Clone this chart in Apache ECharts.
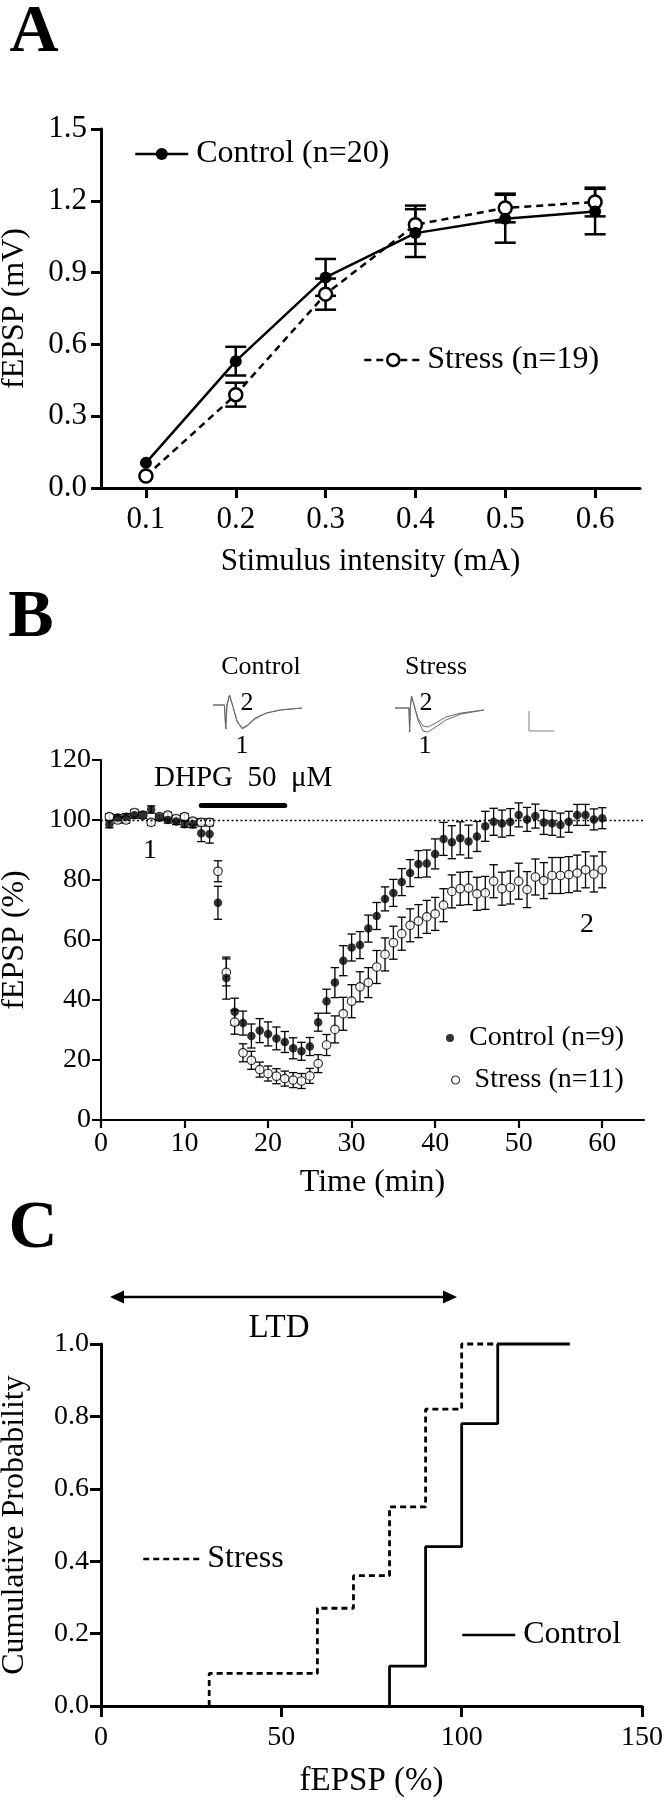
<!DOCTYPE html>
<html><head><meta charset="utf-8">
<script src="https://cdn.jsdelivr.net/npm/echarts@6/dist/echarts.min.js"></script>
<style>html,body{margin:0;padding:0;background:#fff}#c{width:666px;height:1800px}</style>
</head><body><div id="c"></div>
<script>
const FONT = 'Liberation Serif';

// ---------- Panel A : input-output ----------
const intensityA = ['0.1', '0.2', '0.3', '0.4', '0.5', '0.6'];
const controlA = [0.105, 0.53, 0.88, 1.065, 1.125, 1.155];
const controlAErr = [0, 0.06, 0.077, 0.10, 0.10, 0.095];
const stressA = [0.05, 0.39, 0.81, 1.10, 1.17, 1.195];
const stressAErr = [0, 0.05, 0.065, 0.08, 0.06, 0.06];

// ---------- Panel B : DHPG time course ----------
const timeB = [1,2,3,4,5,6,7,8,9,10,11,12,13,14,15,16,17,18,19,20,21,22,23,24,25,26,27,28,29,30,
               31,32,33,34,35,36,37,38,39,40,41,42,43,44,45,46,47,48,49,50,51,52,53,54,55,56,57,58,59,60];
const controlB = [98.6,100.8,101.1,101.6,101.6,103.5,100.8,100.0,99.5,98.6,98.6,95.6,95.3,72.4,47.3,
                  36.1,32.3,28.0,29.8,28.7,27.2,26.0,23.9,22.9,24.5,32.6,39.6,45.8,53.1,57.5,
                  58.3,63.8,68.0,73.7,75.7,79.3,82.3,85.3,85.5,88.7,93.7,92.6,93.9,92.8,94.5,
                  97.9,99.4,98.8,99.3,101.7,100.2,101.3,99.2,98.9,98.3,99.4,101.7,101.7,100.2,100.6];
const controlBErr = [1.2,1,1,1,1,1.2,1,1,1,1,1.2,2.8,3,5.5,7,
                     4.5,4,4,4,4,3.8,3.5,3.5,3,3,3,4,5,5,4.5,
                     4.5,4.5,4.5,4,4.5,4.5,4.5,4.5,4.5,5,5.5,5.5,5.5,5.5,5,
                     5,4.5,4.5,4.5,4,4,4,4,4,4,3.5,3.5,3.5,3.5,3.5];
const stressB = [101.1,100.0,100.0,102.5,101.6,99.2,101.1,101.6,100.5,101.1,99.6,99.2,99.2,82.9,49.2,
                 32.6,22.4,19.9,16.8,15.5,14.6,13.8,13.3,13.0,14.7,18.8,25.0,30.2,35.4,39.6,
                 44.4,45.8,51.0,55.2,59.1,62.1,64.9,66.3,67.7,68.7,71.6,76.2,77.1,77.3,75.4,
                 75.7,79.6,77.1,77.5,79.6,76.8,81.0,79.8,81.5,81.5,81.8,82.3,83.4,82.0,83.4];
const stressBErr = [1,1,1,1,1,1,1,1,1,1,1,1.2,1.2,3.5,4.5,
                    4,3,3,2.5,2.5,2.5,2.5,2.5,2.5,2.5,3,3.5,4.5,5.5,5.5,
                    5,5,5.5,5.5,5.5,5.5,5.5,5.5,5.5,5.5,5.5,5.5,5.5,5.5,5.5,
                    5.5,5.5,5.5,5.5,6,6,6,6,6,6,6,6,6,6,6];
const tickB = [0, 10, 20, 30, 40, 50, 60];
const baselineB = 100;
const dhpgB = [12, 22];
const dhpgLevel = 105;

// example traces (ms, arbitrary mV units)
const traceT = [0, 9, 10, 11, 13, 16, 19, 23, 27, 33, 42, 53, 70];
const controlTrace1 = [0, 0, -24, 0, 10, -3, -17, -24, -21, -14, -8, -5, -3];
const controlTrace2 = [0, 0, -24, 0, 10, -3, -16, -23, -20, -13, -8, -5, -3];
const stressTraceT = [0, 11, 11.5, 12, 13, 15, 18, 22, 26, 32, 40, 52, 70];
const stressTrace1 = [0, 0, -24, 0, 12, 3, -12, -23, -24, -19, -12, -6, -2];
const stressTrace2 = [0, 0, -24, 0, 12, 3, -10, -18, -19, -15, -9, -5, -2];

// ---------- Panel C : cumulative probability ----------
const stressCX = [30, 60, 70, 80, 90, 100];
const stressCP = [0.09, 0.27, 0.36, 0.55, 0.82, 1.0];
const stressCEnd = 110;
const controlCX = [80, 90, 100, 110];
const controlCP = [0.11, 0.44, 0.78, 1.0];
const controlCEnd = 130;

function stepData(xs, ps, end) {
  const d = [[xs[0], 0]];
  xs.forEach((x, i) => d.push([x, ps[i]]));
  d.push([end, ps[ps.length - 1]]);
  return d;
}

function errBars(cap, lw) {
  return function (params, api) {
    const x = api.value(0), y = api.value(1), e = api.value(2);
    if (!(e > 0)) return null;
    const hi = api.coord([x, y + e]), lo = api.coord([x, y - e]);
    const st = () => ({ stroke: '#000', lineWidth: lw });
    return { type: 'group', children: [
      { type: 'line', shape: { x1: hi[0], y1: hi[1], x2: lo[0], y2: lo[1] }, style: st() },
      { type: 'line', shape: { x1: hi[0] - cap, y1: hi[1], x2: hi[0] + cap, y2: hi[1] }, style: st() },
      { type: 'line', shape: { x1: lo[0] - cap, y1: lo[1], x2: lo[0] + cap, y2: lo[1] }, style: st() }
    ]};
  };
}

function txt(text, x, y, size, opts) {
  return { type: 'text', x: x, y: y, silent: true, z: 50,
    style: Object.assign({ text: text, fontFamily: FONT, fontSize: size, fill: '#000',
      align: 'center', verticalAlign: 'middle' }, opts || {}) };
}

function axisCommon(lw, tickLen, fs, margin) {
  return {
    axisLine: { show: true, onZero: false, lineStyle: { color: '#000', width: lw } },
    axisTick: { show: true, inside: false, length: tickLen, lineStyle: { color: '#000', width: lw } },
    axisLabel: { show: true, color: '#000', fontFamily: FONT, fontSize: fs, margin: margin },
    splitLine: { show: false },
    nameTextStyle: { color: '#000', fontFamily: FONT }
  };
}

const chart = echarts.init(document.getElementById('c'), null, { renderer: 'canvas', width: 666, height: 1800 });

const ax = (base, extra) => echarts.util.merge(base, extra, true);

const option = {
  animation: false,
  backgroundColor: '#fff',
  textStyle: { fontFamily: FONT, color: '#000' },
  grid: [
    { left: 101, top: 129, width: 539, height: 359, containLabel: false, outerBoundsMode: 'none' },
    { left: 101, top: 760, width: 543, height: 360, containLabel: false, outerBoundsMode: 'none' },
    { left: 101, top: 1344, width: 541, height: 362, containLabel: false, outerBoundsMode: 'none' },
    { left: 213, top: 691, width: 89, height: 40, containLabel: false, outerBoundsMode: 'none' },
    { left: 395, top: 694, width: 89, height: 40, containLabel: false, outerBoundsMode: 'none' }
  ],
  xAxis: [
    ax(axisCommon(3, 10, 31, 16), {
      gridIndex: 0, type: 'category', data: intensityA, boundaryGap: true,
      axisTick: { alignWithLabel: true, interval: 0 }, axisLabel: { interval: 0 },
      name: 'Stimulus intensity (mA)', nameLocation: 'middle', nameGap: 58,
      nameTextStyle: { fontSize: 31 }
    }),
    ax(axisCommon(2.2, 8, 28, 10), {
      gridIndex: 1, type: 'value', min: 0, max: 65, interval: 10,
      axisTick: { customValues: tickB },
      axisLabel: { customValues: tickB, formatter: v => (v > 60 ? '' : String(v)) },
      name: 'Time (min)', nameLocation: 'middle', nameGap: 47, nameTextStyle: { fontSize: 32 }
    }),
    ax(axisCommon(3, 11, 28, 18), {
      gridIndex: 2, type: 'value', min: 0, max: 150, interval: 50,
      name: 'fEPSP (%)', nameLocation: 'middle', nameGap: 59, nameTextStyle: { fontSize: 33 }
    }),
    { gridIndex: 3, type: 'value', min: 0, max: 70, show: false },
    { gridIndex: 4, type: 'value', min: 0, max: 70, show: false }
  ],
  yAxis: [
    ax(axisCommon(3, 10, 31, 14), {
      gridIndex: 0, type: 'value', min: 0, max: 1.5, interval: 0.3,
      axisLabel: { formatter: v => v.toFixed(1) },
      name: 'fEPSP (mV)', nameLocation: 'middle', nameGap: 70, nameTextStyle: { fontSize: 32 }
    }),
    ax(axisCommon(2, 9, 28, 10), {
      gridIndex: 1, type: 'value', min: 0, max: 120, interval: 20,
      name: 'fEPSP (%)', nameLocation: 'middle', nameGap: 70, nameTextStyle: { fontSize: 32 }
    }),
    ax(axisCommon(3, 11, 28, 12), {
      gridIndex: 2, type: 'value', min: 0, max: 1.0, interval: 0.2,
      axisLabel: { formatter: v => v.toFixed(1) },
      name: 'Cumulative Probability', nameLocation: 'middle', nameGap: 70, nameTextStyle: { fontSize: 32 }
    }),
    { gridIndex: 3, type: 'value', min: -26, max: 14, show: false },
    { gridIndex: 4, type: 'value', min: -26, max: 14, show: false }
  ],
  legend: [
    { left: 134, top: 138, padding: 0, itemGap: 0, selectedMode: false, itemWidth: 53, itemHeight: 15,
      data: ['Control (n=20)'], lineStyle: { width: 2.5 },
      textStyle: { fontFamily: FONT, fontSize: 32, color: '#000', padding: [0, 0, 0, 3] } },
    { left: 363, top: 344, padding: 0, itemGap: 0, selectedMode: false, itemWidth: 58, itemHeight: 15,
      data: ['Stress (n=19)'], lineStyle: { width: 2.5 }, itemStyle: { borderWidth: 2.5 },
      textStyle: { fontFamily: FONT, fontSize: 32, color: '#000', padding: [0, 0, 0, 0] } },
    { left: 446, top: 1024, padding: 0, itemGap: 0, selectedMode: false, itemWidth: 8, itemHeight: 8,
      data: ['Control (n=9)'],
      textStyle: { fontFamily: FONT, fontSize: 28, color: '#000', padding: [0, 0, 0, 10] } },
    { left: 451, top: 1066, padding: 0, itemGap: 0, selectedMode: false, itemWidth: 8, itemHeight: 8,
      data: ['Stress (n=11)'], itemStyle: { borderWidth: 1.2 },
      textStyle: { fontFamily: FONT, fontSize: 28, color: '#000', padding: [0, 0, 0, 10] } },
    { left: 142, top: 1543, padding: 0, itemGap: 0, selectedMode: false, itemWidth: 56, itemHeight: 14,
      data: ['Stress'], lineStyle: { width: 2.5 }, itemStyle: { opacity: 0 },
      textStyle: { fontFamily: FONT, fontSize: 32, color: '#000', padding: [0, 0, 0, 3] } },
    { left: 461, top: 1619, padding: 0, itemGap: 0, selectedMode: false, itemWidth: 53, itemHeight: 14,
      data: ['Control'], lineStyle: { width: 2.5 }, itemStyle: { opacity: 0 },
      textStyle: { fontFamily: FONT, fontSize: 32, color: '#000', padding: [0, 0, 0, 3] } }
  ],
  series: [
    // ---- A ----
    { name: 'errA-control', type: 'custom', xAxisIndex: 0, yAxisIndex: 0, z: 2,
      renderItem: errBars(10.5, 2.5), encode: { x: 0, y: 1 },
      data: controlA.map((v, i) => [i, v, controlAErr[i]]) },
    { name: 'errA-stress', type: 'custom', xAxisIndex: 0, yAxisIndex: 0, z: 2,
      renderItem: errBars(10.5, 2.5), encode: { x: 0, y: 1 },
      data: stressA.map((v, i) => [i, v, stressAErr[i]]) },
    { name: 'Stress (n=19)', type: 'line', xAxisIndex: 0, yAxisIndex: 0, z: 3, data: stressA,
      symbol: 'circle', symbolSize: 13, showSymbol: true,
      lineStyle: { color: '#000', width: 2.5, type: [7, 5] },
      itemStyle: { color: '#fff', borderColor: '#000', borderWidth: 2.5 } },
    { name: 'Control (n=20)', type: 'line', xAxisIndex: 0, yAxisIndex: 0, z: 4, data: controlA,
      symbol: 'circle', symbolSize: 12, showSymbol: true,
      lineStyle: { color: '#000', width: 2.5, type: 'solid' },
      itemStyle: { color: '#000' } },

    // ---- B ----
    { name: 'errB-stress', type: 'custom', xAxisIndex: 1, yAxisIndex: 1, z: 2,
      renderItem: errBars(4.2, 1.3), encode: { x: 0, y: 1 },
      data: stressB.map((v, i) => [timeB[i], v, stressBErr[i]]) },
    { name: 'errB-control', type: 'custom', xAxisIndex: 1, yAxisIndex: 1, z: 2,
      renderItem: errBars(4.2, 1.3), encode: { x: 0, y: 1 },
      data: controlB.map((v, i) => [timeB[i], v, controlBErr[i]]) },
    { name: 'Stress (n=11)', type: 'scatter', xAxisIndex: 1, yAxisIndex: 1, z: 3,
      symbol: 'circle', symbolSize: 8.5,
      itemStyle: { color: '#fff', borderColor: '#000', borderWidth: 1.2 },
      data: stressB.map((v, i) => [timeB[i], v]),
      markLine: { silent: true, symbol: ['none', 'none'], label: { show: false },
        data: [
          { yAxis: baselineB, lineStyle: { color: '#000', width: 1.3, type: [2, 2.5] } },
          [ { coord: [dhpgB[0], dhpgLevel], lineStyle: { color: '#000', width: 5, type: 'solid', cap: 'round' } },
            { coord: [dhpgB[1], dhpgLevel] } ]
        ] } },
    { name: 'Control (n=9)', type: 'scatter', xAxisIndex: 1, yAxisIndex: 1, z: 4,
      symbol: 'circle', symbolSize: 8.5, itemStyle: { color: '#000' },
      data: controlB.map((v, i) => [timeB[i], v]) },

    // traces
    { name: 'trace-c1', type: 'line', xAxisIndex: 3, yAxisIndex: 3, symbol: 'none', clip: false,
      lineStyle: { color: '#6a6a6a', width: 1 }, data: traceT.map((t, i) => [t, controlTrace1[i]]) },
    { name: 'trace-c2', type: 'line', xAxisIndex: 3, yAxisIndex: 3, symbol: 'none', clip: false,
      lineStyle: { color: '#6a6a6a', width: 1 }, data: traceT.map((t, i) => [t, controlTrace2[i]]) },
    { name: 'trace-s1', type: 'line', xAxisIndex: 4, yAxisIndex: 4, symbol: 'none', clip: false,
      lineStyle: { color: '#6a6a6a', width: 1 }, data: stressTraceT.map((t, i) => [t, stressTrace1[i]]) },
    { name: 'trace-s2', type: 'line', xAxisIndex: 4, yAxisIndex: 4, symbol: 'none', clip: false,
      lineStyle: { color: '#6a6a6a', width: 1 }, data: stressTraceT.map((t, i) => [t, stressTrace2[i]]) },

    // ---- C ----
    { name: 'Stress', type: 'line', xAxisIndex: 2, yAxisIndex: 2, step: 'end', symbol: 'none', clip: false, z: 3,
      lineStyle: { color: '#000', width: 2.8, type: [6, 4] }, itemStyle: { color: '#000' },
      data: stepData(stressCX, stressCP, stressCEnd) },
    { name: 'Control', type: 'line', xAxisIndex: 2, yAxisIndex: 2, step: 'end', symbol: 'none', clip: false, z: 4,
      lineStyle: { color: '#000', width: 2.8, type: 'solid' }, itemStyle: { color: '#000' },
      data: stepData(controlCX, controlCP, controlCEnd) }
  ],
  graphic: [
    txt('A', 34, 33, 68, { fontWeight: 'bold' }),
    txt('B', 31, 618, 68, { fontWeight: 'bold' }),
    txt('C', 33, 1229, 68, { fontWeight: 'bold' }),
    txt('Control', 261, 667, 26),
    txt('Stress', 436, 667, 26),
    txt('2', 247, 703, 26),
    txt('1', 242, 746, 26),
    txt('2', 426, 703, 26),
    txt('1', 425, 746, 26),
    { type: 'polyline', silent: true, shape: { points: [[529, 711], [529, 731], [554, 731]] },
      style: { stroke: '#808080', lineWidth: 1, fill: null } },
    txt('DHPG  50  \u03bcM', 154, 778, 29, { align: 'left' }),
    txt('1', 150, 851, 28),
    txt('2', 587, 925, 28),
    // LTD arrow
    { type: 'line', silent: true, shape: { x1: 118, y1: 1297, x2: 449, y2: 1297 },
      style: { stroke: '#000', lineWidth: 2.5 } },
    { type: 'polygon', silent: true, shape: { points: [[110, 1297], [124, 1290.5], [124, 1303.5]] },
      style: { fill: '#000' } },
    { type: 'polygon', silent: true, shape: { points: [[457, 1297], [443, 1290.5], [443, 1303.5]] },
      style: { fill: '#000' } },
    txt('LTD', 279, 1328, 33)
  ]
};

chart.setOption(option);
</script>
</body></html>
